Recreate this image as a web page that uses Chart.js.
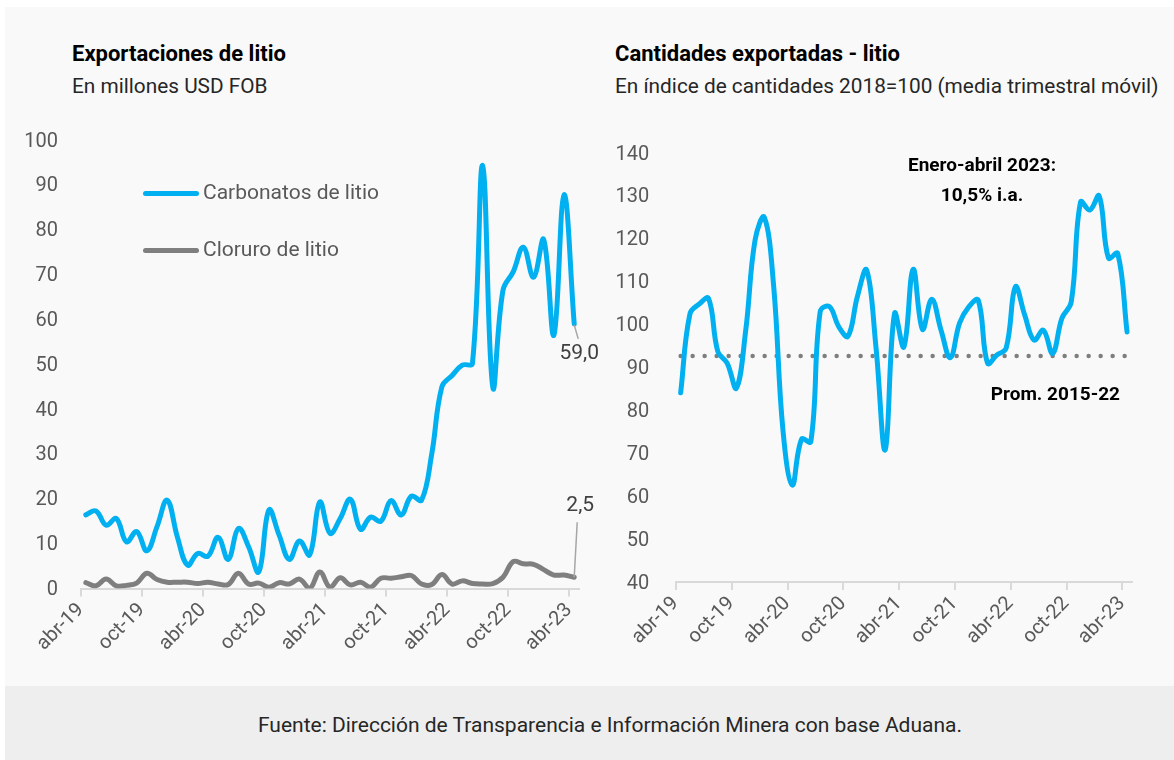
<!DOCTYPE html>
<html>
<head>
<meta charset="utf-8">
<script src="https://cdn.jsdelivr.net/npm/chart.js@4.4.1/dist/chart.umd.min.js"></script>
<style>
html,body{margin:0;padding:0;background:#fff;}
body{width:1174px;height:760px;position:relative;overflow:hidden;font-family:Roboto,"Open Sans",sans-serif;}
#panel{position:absolute;left:5px;top:7px;width:1169px;height:679px;background:#F9F9F9;}
#foot{position:absolute;left:5px;top:686px;width:1169px;height:74px;background:#EEEEEE;}
.t{position:absolute;white-space:nowrap;line-height:1;}
.title{font-weight:700;font-size:22px;color:#000;}
.sub{font-size:20.8px;color:#262626;}
.ann{font-weight:700;font-size:19px;color:#000;}
.leg{position:absolute;height:5px;border-radius:3px;}
.legt{font-size:21px;color:#595959;}
#w1{position:absolute;left:0;top:0;width:600px;height:686px;}
#w2{position:absolute;left:600px;top:0;width:574px;height:686px;}
</style>
</head>
<body>
<div id="panel"></div>
<div id="foot"></div>

<div class="t title" style="left:72px;top:43px;">Exportaciones de litio</div>
<div class="t sub" style="left:72px;top:76px;">En millones USD FOB</div>
<div class="t title" style="left:615px;top:43px;">Cantidades exportadas - litio</div>
<div class="t sub" style="left:615px;top:76px;">En índice de cantidades 2018=100 (media trimestral móvil)</div>

<div id="w1"><canvas id="c1" width="600" height="686"></canvas></div>
<div id="w2"><canvas id="c2" width="574" height="686"></canvas></div>

<div class="leg" style="left:143px;top:191px;width:56px;background:#00B0F0;"></div>
<div class="t legt" style="left:203px;top:182px;">Carbonatos de litio</div>
<div class="leg" style="left:143px;top:248px;width:56px;background:#7F7F7F;"></div>
<div class="t legt" style="left:203px;top:239px;">Cloruro de litio</div>

<div class="t ann" style="left:882px;top:155px;width:200px;text-align:center;">Enero-abril 2023:</div>
<div class="t ann" style="left:882px;top:185px;width:200px;text-align:center;">10,5% i.a.</div>
<div class="t ann" style="left:920px;top:384px;width:200px;text-align:right;">Prom. 2015-22</div>

<div class="t" style="left:0;top:715px;width:1220px;text-align:center;font-size:21px;color:#262626;">Fuente: Dirección de Transparencia e Información Minera con base Aduana.</div>

<script>
// ---- Data ----
const meses = ['abr-19','may-19','jun-19','jul-19','ago-19','sep-19','oct-19','nov-19','dic-19',
  'ene-20','feb-20','mar-20','abr-20','may-20','jun-20','jul-20','ago-20','sep-20','oct-20','nov-20','dic-20',
  'ene-21','feb-21','mar-21','abr-21','may-21','jun-21','jul-21','ago-21','sep-21','oct-21','nov-21','dic-21',
  'ene-22','feb-22','mar-22','abr-22','may-22','jun-22','jul-22','ago-22','sep-22','oct-22','nov-22','dic-22',
  'ene-23','feb-23','mar-23','abr-23'];

const carbonatos = [16.4, 17.3, 14.1, 15.6, 10.4, 12.7, 8.4, 13.8, 19.7, 11.5, 5.2, 7.8, 7.2, 11.4, 6.5, 13.4,
  9.3, 3.7, 17.5, 11.9, 6.5, 10.6, 7.5, 19.3, 12.3, 15.6, 19.9, 13.2, 15.9, 15.0, 19.6, 16.4, 20.6, 19.7,
  30.0, 45.0, 47.5, 49.8, 50.2, 94.3, 44.9, 66.5, 70.6, 76.1, 69.4, 77.8, 56.5, 87.8, 59.0];

const cloruro = [1.3, 0.6, 2.1, 0.6, 0.7, 1.2, 3.4, 2.0, 1.4, 1.4, 1.4, 1.1, 1.4, 1.0, 0.9, 3.4, 1.0, 1.2,
  0.3, 1.3, 1.0, 2.1, 0.0, 3.7, 0.3, 2.4, 0.8, 1.4, 0.3, 2.3, 2.3, 2.6, 2.9, 1.0, 0.9, 3.1, 1.0, 1.7, 1.1,
  1.0, 1.1, 2.5, 6.0, 5.5, 5.4, 4.2, 3.0, 3.0, 2.5];

const indiceCantidades = [84.1, 102.5, 104.8, 106.1, 93.7, 91.0, 85.2, 98.7, 119.7, 125.0, 109.0, 75.4, 62.6,
  73.3, 72.7, 103.0, 104.2, 99.5, 97.3, 106.5, 112.7, 94.8, 70.8, 102.6, 94.8, 112.9, 98.9, 105.9, 98.7,
  92.3, 100.4, 104.2, 105.7, 91.0, 92.9, 94.5, 108.8, 102.2, 96.4, 98.7, 93.3, 101.5, 105.3, 128.6, 126.7,
  130.0, 115.5, 116.6, 98.3];

const promedio2015_22 = 92.7;
const etiquetaCarbonatos = '59,0';
const etiquetaCloruro = '2,5';

// ---- Chart setup ----
Chart.defaults.font.family = 'Roboto, "Open Sans", sans-serif';
Chart.defaults.animation = false;

const TICK_COLOR = '#595959';
const AXIS_COLOR = '#D9D9D9';

function xAxis(height) {
  return {
    type: 'category',
    offset: true,
    grid: {
      offset: true,
      drawOnChartArea: false,
      drawTicks: true,
      tickLength: 8,
      lineWidth: 2,
      color: (ctx) => (ctx.index % 6 === 0 ? AXIS_COLOR : 'rgba(0,0,0,0)')
    },
    border: { display: true, color: AXIS_COLOR, width: 2 },
    ticks: {
      autoSkip: false,
      minRotation: 45,
      maxRotation: 45,
      labelOffset: -5,
      padding: 2,
      color: TICK_COLOR,
      font: { size: 20 },
      callback: function (v, i) { return i % 6 === 0 ? this.getLabelForValue(v) : ''; }
    },
    afterFit: (s) => { s.height = height; }
  };
}

function yAxis(min, max, width, pad) {
  return {
    min: min, max: max,
    grid: { display: false, drawTicks: false },
    border: { display: false },
    ticks: { stepSize: 10, color: TICK_COLOR, font: { size: 20 }, padding: pad, labelOffset: 1.5 },
    afterFit: (s) => { s.width = width; }
  };
}

const endLabels = {
  id: 'endLabels',
  afterDatasetsDraw(chart) {
    const ctx = chart.ctx;
    const b = chart.getDatasetMeta(0).data[carbonatos.length - 1];
    const g = chart.getDatasetMeta(1).data[cloruro.length - 1];
    ctx.save();
    ctx.strokeStyle = '#A6A6A6';
    ctx.lineWidth = 1.5;
    ctx.beginPath();
    ctx.moveTo(b.x, b.y + 1); ctx.lineTo(b.x + 4, b.y + 15);
    ctx.moveTo(g.x + 3, g.y - 55); ctx.lineTo(g.x, g.y);
    ctx.stroke();
    ctx.fillStyle = '#404040';
    ctx.font = '21px Roboto, "Open Sans", sans-serif';
    ctx.textAlign = 'center';
    ctx.textBaseline = 'middle';
    ctx.fillText(etiquetaCarbonatos, b.x + 5, b.y + 30);
    ctx.fillText(etiquetaCloruro, g.x + 6, g.y - 72);
    ctx.restore();
  }
};

new Chart(document.getElementById('c1'), {
  type: 'line',
  data: {
    labels: meses,
    datasets: [
      { label: 'Carbonatos de litio', data: carbonatos, borderColor: '#00B0F0', borderWidth: 5,
        pointRadius: 0, tension: 0.4, fill: false, borderCapStyle: 'round', borderJoinStyle: 'round' },
      { label: 'Cloruro de litio', data: cloruro, borderColor: '#7F7F7F', borderWidth: 5,
        pointRadius: 0, tension: 0.4, fill: false, borderCapStyle: 'round', borderJoinStyle: 'round' }
    ]
  },
  options: {
    responsive: false,
    layout: { padding: { left: 0, top: 140, right: 20.7, bottom: 0 } },
    plugins: { legend: { display: false }, tooltip: { enabled: false } },
    scales: { x: xAxis(97.5), y: yAxis(0, 100, 80.7, 22.7) }
  },
  plugins: [endLabels]
});

new Chart(document.getElementById('c2'), {
  type: 'line',
  data: {
    labels: meses,
    datasets: [
      { label: 'Índice de cantidades', data: indiceCantidades, borderColor: '#00B0F0', borderWidth: 5,
        pointRadius: 0, tension: 0.4, fill: false, borderCapStyle: 'round', borderJoinStyle: 'round' },
      { label: 'Prom. 2015-22',
        data: [{ x: meses[0], y: promedio2015_22 }, { x: meses[meses.length - 1], y: promedio2015_22 }],
        borderColor: '#7F7F7F', borderWidth: 4.5, borderDash: [0, 12], borderCapStyle: 'round',
        pointRadius: 0, fill: false, order: 1 }
    ]
  },
  options: {
    responsive: false,
    layout: { padding: { left: 0, top: 153, right: 42.3, bottom: 0 } },
    plugins: { legend: { display: false }, tooltip: { enabled: false } },
    scales: { x: xAxis(104), y: yAxis(40, 140, 76, 26.7) }
  }
});
</script>
</body>
</html>
